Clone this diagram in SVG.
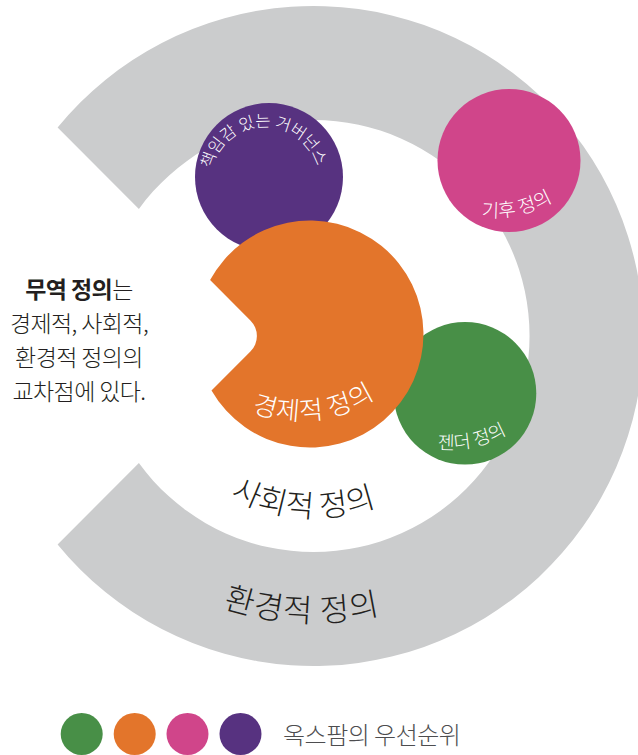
<svg xmlns="http://www.w3.org/2000/svg" width="638" height="755" viewBox="0 0 638 755">
  <style>
    text { font-family: "Noto Sans CJK KR", "Noto Sans", sans-serif; font-weight: 300; }
    .ink { fill: #231f20; }
    .wht { fill: #ffffff; }
    .side { font-size: 23px; letter-spacing: -0.6px; text-anchor: middle; }
    .lbl { text-anchor: middle; }
  </style>
  <defs>
    <path id="pPurple" d="M218.9,210.3 A54.2,54.2 0 1 1 312.7,205.9"/>
    <path id="pOrange" d="M174.1,341.8 A139.4,139.4 0 0 0 434.7,314.4"/>
    <path id="pPink" d="M407.3,178.6 A116.8,116.8 0 0 0 605.2,136.5"/>
    <path id="pGreen" d="M362.3,410.6 A116.8,116.8 0 0 0 560.2,368.5"/>
    <path id="pSocial" d="M140.3,389.3 A181.2,181.2 0 0 0 480.4,406.5"/>
    <path id="pEnv" d="M87.5,511.3 A285.9,285.9 0 0 0 525.3,528"/>
  </defs>

  <g id="ring">
    <path d="M57.6,127.6 A330,330 0 1 1 57.6,544.4 L138.9,463.1 A216,216 0 1 0 138.9,208.9 Z" fill="#cbcccd"/>
    <text class="ink lbl" font-size="32" letter-spacing="1"><textPath href="#pEnv" startOffset="49.8%">환경적 정의</textPath></text>
    <text class="ink lbl" font-size="31" letter-spacing="0.3"><textPath href="#pSocial" startOffset="49.6%">사회적 정의</textPath></text>
  </g>

  <g id="node-pink">
    <circle cx="509" cy="160.5" r="71.5" fill="#d0458a"/>
    <text class="wht lbl" font-size="19"><textPath href="#pPink" startOffset="50%">기후 정의</textPath></text>
  </g>

  <g id="node-purple">
    <circle cx="269" cy="177" r="74" fill="#573280"/>
    <text class="wht lbl" font-size="16.5" letter-spacing="-0.1"><textPath href="#pPurple" startOffset="50.5%">책임감 있는 거버넌스</textPath></text>
  </g>

  <g id="node-green">
    <circle cx="465" cy="393.3" r="71.3" fill="#488f47"/>
    <text class="wht lbl" font-size="18.5"><textPath href="#pGreen" startOffset="50%">젠더 정의</textPath></text>
  </g>

  <g id="node-orange">
    <path d="M210.1,280.1 L250.4,320.4 A22,22 0 0 1 250.4,351.6 L211.5,390.5 A113.5,113.5 0 1 0 210.1,280.1 Z" fill="#e3752b"/>
    <text class="wht lbl" font-size="26" letter-spacing="0.7"><textPath href="#pOrange" startOffset="50.4%">경제적 정의</textPath></text>
  </g>

  <g id="side-note">
    <text class="ink side" x="79" y="298"><tspan font-weight="bold">무역 정의</tspan>는</text>
    <text class="ink side" x="79" y="332">경제적, 사회적,</text>
    <text class="ink side" x="79" y="366">환경적 정의의</text>
    <text class="ink side" x="79" y="400">교차점에 있다.</text>
  </g>

  <g id="legend">
    <circle cx="81.7" cy="734" r="21" fill="#488f47"/>
    <circle cx="134.7" cy="734" r="21" fill="#e3752b"/>
    <circle cx="187.5" cy="734" r="21" fill="#d0458a"/>
    <circle cx="240.5" cy="734" r="21" fill="#573280"/>
    <text x="283" y="744" font-size="24" letter-spacing="-0.5" fill="#4d4d4f">옥스팜의 우선순위</text>
  </g>
</svg>
